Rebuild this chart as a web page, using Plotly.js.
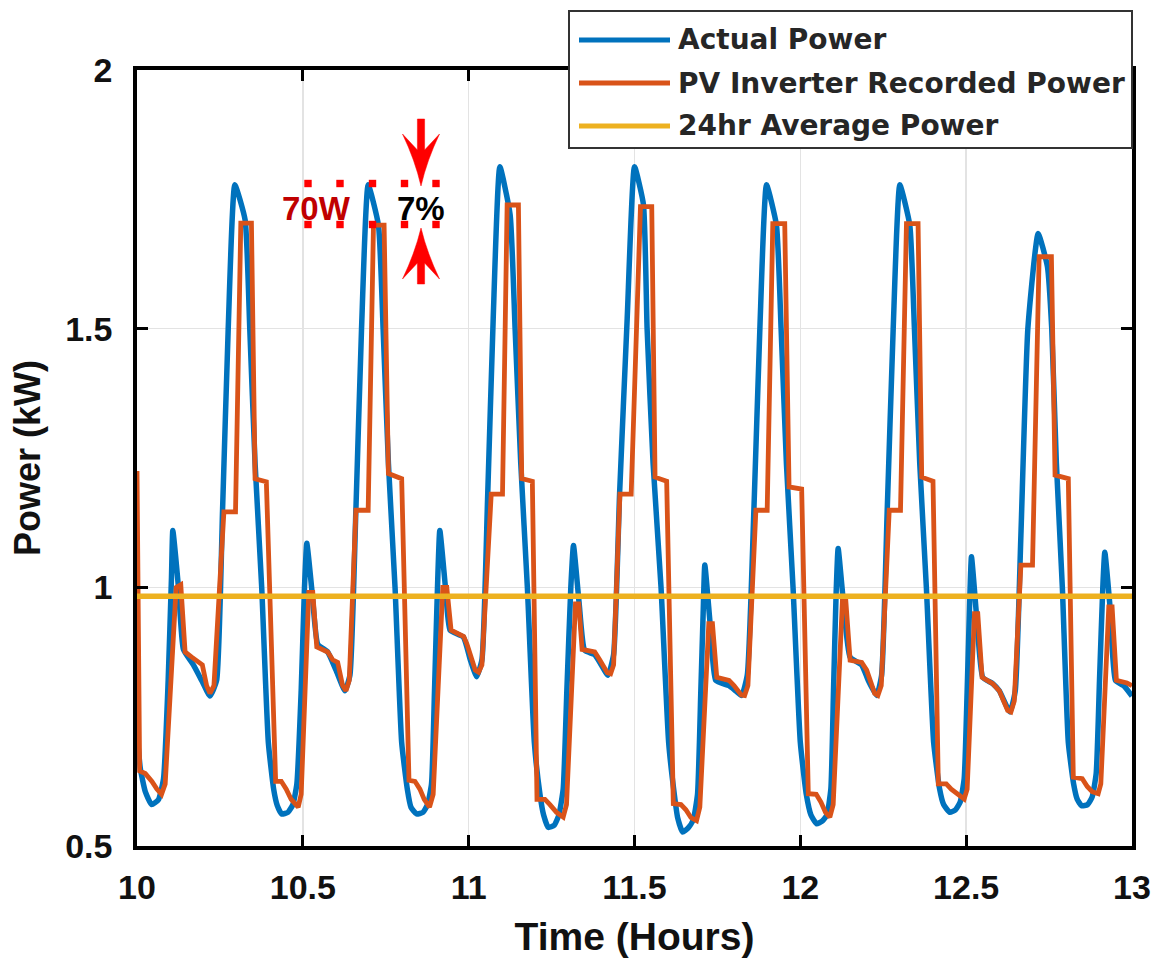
<!DOCTYPE html>
<html>
<head>
<meta charset="utf-8">
<script src="https://cdn.plot.ly/plotly-3.0.1.min.js"></script>
<style>
  html, body { margin: 0; padding: 0; background: #ffffff; }
  #chart { width: 1161px; height: 964px; }
</style>
</head>
<body>
<div id="chart"></div>
<script>
// ---------------- data ----------------
var seriesNames = ['Actual Power', 'PV Inverter Recorded Power', '24hr Average Power'];

var actualTime = [
  10.000, 10.010, 10.025, 10.044, 10.065, 10.080, 10.094, 10.104, 10.108, 10.125, 10.140, 10.170, 10.195, 10.220, 10.240, 10.258, 10.275, 10.295, 10.326, 10.340, 10.356, 10.376, 10.396, 10.412, 10.423, 10.436, 10.455,
  10.470, 10.482, 10.495, 10.505, 10.512, 10.528, 10.545, 10.575, 10.600, 10.627, 10.642, 10.660, 10.677, 10.697, 10.728, 10.742, 10.758, 10.778, 10.798, 10.815, 10.826, 10.843, 10.862,
  10.876, 10.888, 10.897, 10.906, 10.913, 10.930, 10.944, 10.984, 11.005, 11.024, 11.040, 11.057, 11.074, 11.094, 11.125, 11.140, 11.157, 11.177, 11.198, 11.215, 11.226, 11.240, 11.258,
  11.272, 11.285, 11.296, 11.308, 11.316, 11.333, 11.350, 11.380, 11.400, 11.420, 11.437, 11.455, 11.478, 11.500, 11.527, 11.538, 11.556, 11.580, 11.603, 11.620, 11.630, 11.645, 11.662,
  11.677, 11.690, 11.700, 11.707, 11.712, 11.728, 11.745, 11.785, 11.805, 11.823, 11.840, 11.860, 11.878, 11.898, 11.928, 11.942, 11.958, 11.978, 12.000, 12.018, 12.032, 12.049, 12.066,
  12.080, 12.092, 12.100, 12.108, 12.114, 12.130, 12.150, 12.185, 12.205, 12.230, 12.245, 12.262, 12.280, 12.300, 12.330, 12.344, 12.360, 12.380, 12.402, 12.420, 12.432, 12.451, 12.468,
  12.482, 12.494, 12.503, 12.511, 12.516, 12.532, 12.550, 12.580, 12.600, 12.632, 12.648, 12.665, 12.686, 12.717, 12.745, 12.758, 12.772, 12.790, 12.808, 12.824, 12.835, 12.848, 12.866,
  12.880, 12.892, 12.902, 12.912, 12.918, 12.934, 12.950, 12.975, 13.000
];
var actualPower = [
  0.720, 0.650, 0.605, 0.580, 0.590, 0.630, 0.820, 1.020, 1.110, 1.000, 0.880, 0.850, 0.820, 0.790, 0.820, 1.150, 1.500, 1.778, 1.710, 1.500, 1.240, 1.000, 0.700, 0.610, 0.578, 0.562, 0.565,
  0.580, 0.620, 0.800, 1.000, 1.085, 0.990, 0.890, 0.875, 0.840, 0.800, 0.830, 1.150, 1.500, 1.778, 1.700, 1.500, 1.240, 1.000, 0.700, 0.610, 0.575, 0.562, 0.565,
  0.580, 0.620, 0.800, 1.000, 1.110, 1.000, 0.917, 0.904, 0.860, 0.827, 0.860, 1.170, 1.520, 1.813, 1.720, 1.500, 1.240, 1.000, 0.700, 0.600, 0.560, 0.536, 0.540,
  0.560, 0.610, 0.800, 1.000, 1.081, 0.970, 0.878, 0.870, 0.850, 0.830, 0.870, 1.180, 1.520, 1.813, 1.740, 1.500, 1.240, 1.000, 0.700, 0.600, 0.555, 0.527, 0.535,
  0.550, 0.600, 0.800, 0.950, 1.043, 0.930, 0.820, 0.810, 0.800, 0.791, 0.830, 1.150, 1.500, 1.778, 1.700, 1.500, 1.240, 1.000, 0.700, 0.600, 0.560, 0.543, 0.548,
  0.560, 0.610, 0.800, 0.990, 1.075, 0.970, 0.865, 0.850, 0.820, 0.791, 0.830, 1.150, 1.500, 1.778, 1.700, 1.500, 1.240, 1.000, 0.700, 0.610, 0.580, 0.565, 0.570,
  0.585, 0.630, 0.800, 0.980, 1.059, 0.940, 0.826, 0.814, 0.800, 0.759, 0.800, 1.100, 1.500, 1.684, 1.620, 1.500, 1.240, 1.000, 0.700, 0.620, 0.590, 0.578, 0.580,
  0.595, 0.640, 0.820, 1.000, 1.068, 0.960, 0.820, 0.810, 0.790
];

var inverterTime = [
  10.000, 10.008, 10.025, 10.045, 10.060, 10.074, 10.085, 10.118, 10.132, 10.145, 10.165, 10.185, 10.197, 10.210, 10.220, 10.232, 10.262, 10.297, 10.313, 10.345, 10.356, 10.390,
  10.418, 10.435, 10.450, 10.465, 10.486, 10.495, 10.518, 10.530, 10.542, 10.575, 10.590, 10.605, 10.620, 10.630, 10.640, 10.660, 10.697, 10.713, 10.745, 10.758, 10.798,
  10.820, 10.838, 10.853, 10.866, 10.882, 10.893, 10.922, 10.934, 10.947, 10.985, 10.995, 11.020, 11.030, 11.040, 11.068, 11.102, 11.116, 11.150, 11.160, 11.192,
  11.206, 11.230, 11.245, 11.265, 11.285, 11.295, 11.322, 11.332, 11.342, 11.380, 11.395, 11.418, 11.428, 11.437, 11.456, 11.490, 11.518, 11.552, 11.562, 11.597,
  11.617, 11.640, 11.655, 11.670, 11.687, 11.697, 11.724, 11.735, 11.748, 11.785, 11.800, 11.822, 11.832, 11.842, 11.866, 11.900, 11.917, 11.953, 11.966, 12.004,
  12.024, 12.048, 12.062, 12.076, 12.089, 12.099, 12.127, 12.137, 12.150, 12.185, 12.200, 12.224, 12.234, 12.244, 12.268, 12.302, 12.320, 12.355, 12.366, 12.400,
  12.416, 12.440, 12.455, 12.475, 12.494, 12.503, 12.525, 12.535, 12.548, 12.580, 12.600, 12.625, 12.635, 12.645, 12.665, 12.700, 12.720, 12.757, 12.768, 12.808,
  12.823, 12.850, 12.865, 12.880, 12.898, 12.906, 12.930, 12.940, 12.953, 12.985, 13.000
];
var inverterPower = [
  1.225, 0.645, 0.640, 0.625, 0.610, 0.600, 0.620, 1.000, 1.005, 0.875, 0.865, 0.855, 0.850, 0.810, 0.795, 0.810, 1.146, 1.146, 1.704, 1.704, 1.210, 1.204,
  0.625, 0.625, 0.610, 0.590, 0.575, 0.600, 0.990, 0.990, 0.885, 0.875, 0.860, 0.855, 0.810, 0.800, 0.820, 1.149, 1.149, 1.700, 1.700, 1.220, 1.210,
  0.627, 0.625, 0.610, 0.590, 0.575, 0.600, 1.000, 1.000, 0.917, 0.905, 0.890, 0.840, 0.836, 0.850, 1.180, 1.180, 1.739, 1.739, 1.210, 1.205,
  0.590, 0.590, 0.580, 0.565, 0.556, 0.580, 0.968, 0.968, 0.880, 0.875, 0.860, 0.835, 0.833, 0.850, 1.180, 1.180, 1.736, 1.736, 1.213, 1.205,
  0.582, 0.580, 0.570, 0.555, 0.549, 0.575, 0.930, 0.930, 0.826, 0.820, 0.810, 0.792, 0.791, 0.810, 1.149, 1.149, 1.703, 1.703, 1.194, 1.190,
  0.601, 0.600, 0.585, 0.565, 0.556, 0.580, 0.975, 0.975, 0.859, 0.855, 0.840, 0.795, 0.791, 0.810, 1.149, 1.149, 1.703, 1.703, 1.213, 1.205,
  0.620, 0.620, 0.610, 0.600, 0.591, 0.610, 0.949, 0.949, 0.826, 0.814, 0.800, 0.762, 0.759, 0.780, 1.043, 1.043, 1.639, 1.639, 1.217, 1.210,
  0.633, 0.630, 0.615, 0.605, 0.601, 0.620, 0.962, 0.962, 0.820, 0.815, 0.810
];

var averageTime  = [10, 13];
var averagePower = [0.983, 0.983];

var xTickVals = [10, 10.5, 11, 11.5, 12, 12.5, 13];
var xTickText = ['10', '10.5', '11', '11.5', '12', '12.5', '13'];
var yTickVals = [0.5, 1, 1.5, 2];
var yTickText = ['0.5', '1', '1.5', '2'];

var annotationLabels = ['70W', '7%'];

// ---------------- styling / layout ----------------
var colors = ['#0072BD', '#D95319', '#EDB120'];
var W = 1161, H = 964;
var M = { l: 137, r: 29, t: 70, b: 118 };
var PW = W - M.l - M.r, PH = H - M.t - M.b;
function px(x) { return (x - M.l) / PW; }       // page pixel -> paper x
function py(y) { return (M.t + PH - y) / PH; }   // page pixel -> paper y

var traces = [
  { x: actualTime, y: actualPower, name: seriesNames[0], type: 'scatter', mode: 'lines',
    line: { color: colors[0], width: 5.5, shape: 'spline', smoothing: 0.45 }, showlegend: false },
  { x: inverterTime, y: inverterPower, name: seriesNames[1], type: 'scatter', mode: 'lines',
    line: { color: colors[1], width: 4.8 }, showlegend: false },
  { x: averageTime, y: averagePower, name: seriesNames[2], type: 'scatter', mode: 'lines',
    line: { color: colors[2], width: 5.5 }, showlegend: false }
];

var fontFam = 'Liberation Sans, Arial, Helvetica, sans-serif';
var shapes = [], annotations = [];

// manual legend (box, line samples, labels)
shapes.push({ type: 'rect', xref: 'paper', yref: 'paper', layer: 'above',
  x0: px(569), x1: px(1132), y0: py(148), y1: py(11),
  fillcolor: '#ffffff', line: { color: '#333333', width: 2 } });
var legRows = [40, 83, 126];
for (var i = 0; i < 3; i++) {
  shapes.push({ type: 'line', xref: 'paper', yref: 'paper', layer: 'above',
    x0: px(579), x1: px(670), y0: py(legRows[i]), y1: py(legRows[i]),
    line: { color: colors[i], width: 5 } });
  annotations.push({ xref: 'paper', yref: 'paper', x: px(676), y: py(legRows[i]),
    xanchor: 'left', yanchor: 'middle', showarrow: false, text: seriesNames[i],
    font: { family: 'DejaVu Sans', size: 28, weight: 'bold', color: '#262626' } });
}

// red dotted markers
var dotX = [308, 340, 372.5, 404.5, 436];
var dotY = [183.5, 224.5];
dotX.forEach(function (cx) {
  dotY.forEach(function (cy) {
    shapes.push({ type: 'rect', xref: 'paper', yref: 'paper', layer: 'above',
      x0: px(cx - 3.7), x1: px(cx + 3.7), y0: py(cy + 3.7), y1: py(cy - 3.7),
      fillcolor: '#FF0000', line: { width: 0 } });
  });
});

// red arrows (path in paper coords)
function pathFrom(pts) {
  var s = '';
  pts.forEach(function (p, k) {
    if (p[0] === 'Q') s += ' Q' + px(p[1]) + ',' + py(p[2]) + ' ' + px(p[3]) + ',' + py(p[4]);
    else s += (k === 0 ? 'M' : ' L') + px(p[0]) + ',' + py(p[1]);
  });
  return s + ' Z';
}
var ax = 421;
var downArrow = [[ax - 3.6, 119], [ax - 3.6, 150], [ax - 18.5, 134], ['Q', ax - 6, 160, ax, 186],
                 ['Q', ax + 6, 160, ax + 18.5, 134], [ax + 3.6, 150], [ax + 3.6, 119]];
var upArrow = [[ax - 3.6, 284], [ax - 3.6, 263], [ax - 18.5, 279], ['Q', ax - 6, 253, ax, 228],
               ['Q', ax + 6, 253, ax + 18.5, 279], [ax + 3.6, 263], [ax + 3.6, 284]];
[downArrow, upArrow].forEach(function (a) {
  shapes.push({ type: 'path', xref: 'paper', yref: 'paper', layer: 'above',
    path: pathFrom(a), fillcolor: '#FF0000', line: { color: '#FF0000', width: 0.5 } });
});

annotations.push({ xref: 'paper', yref: 'paper', x: px(316), y: py(208), xanchor: 'center', yanchor: 'middle',
  showarrow: false, text: annotationLabels[0],
  font: { family: fontFam, size: 33, weight: 'bold', color: '#C00000' } });
annotations.push({ xref: 'paper', yref: 'paper', x: px(420.5), y: py(208), xanchor: 'center', yanchor: 'middle',
  showarrow: false, text: annotationLabels[1],
  font: { family: fontFam, size: 33, weight: 'bold', color: '#000000' } });

var axisCommon = {
  showline: true, linecolor: '#000000', linewidth: 3.8, mirror: 'allticks',
  ticks: 'inside', ticklen: 11, tickwidth: 3, tickcolor: '#000000',
  showgrid: true, gridcolor: '#e3e3e3', gridwidth: 1.5, zeroline: false,
  tickfont: { family: fontFam, size: 34, weight: 'bold', color: '#111111' },
  fixedrange: true
};

var layout = {
  width: W, height: H,
  margin: { l: M.l, r: M.r, t: M.t, b: M.b, pad: 0 },
  paper_bgcolor: '#ffffff', plot_bgcolor: '#ffffff',
  showlegend: false,
  xaxis: Object.assign({}, axisCommon, {
    range: [10, 13], tickmode: 'array', tickvals: xTickVals, ticktext: xTickText,
    ticklabelstandoff: 8,
    title: { text: 'Time (Hours)', standoff: 19,
      font: { family: fontFam, size: 39, weight: 'bold', color: '#111111' } }
  }),
  yaxis: Object.assign({}, axisCommon, {
    range: [0.5, 2], tickmode: 'array', tickvals: yTickVals, ticktext: yTickText,
    ticklabelstandoff: 14,
    title: { text: 'Power (kW)', standoff: 14,
      font: { family: fontFam, size: 36, weight: 'bold', color: '#111111' } }
  }),
  shapes: shapes,
  annotations: annotations
};

Plotly.newPlot('chart', traces, layout, { displayModeBar: false, staticPlot: true });
</script>
</body>
</html>
